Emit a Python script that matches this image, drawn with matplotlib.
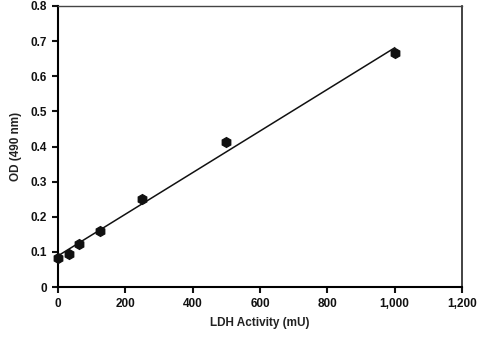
import numpy as np
import matplotlib
matplotlib.use("Agg")
import matplotlib.pyplot as plt

plt.rcParams['font.family'] = ['Liberation Sans', 'DejaVu Sans']

activity = [0, 31.25, 62.5, 125, 250, 500, 1000]
od = [0.083, 0.095, 0.122, 0.160, 0.250, 0.412, 0.665]
xticks = [0, 200, 400, 600, 800, 1000, 1200]
xticklabels = ['0', '200', '400', '600', '800', '1,000', '1,200']
yticks = [0, 0.1, 0.2, 0.3, 0.4, 0.5, 0.6, 0.7, 0.8]
yticklabels = ['0', '0.1', '0.2', '0.3', '0.4', '0.5', '0.6', '0.7', '0.8']

fig = plt.figure(figsize=(4.84, 3.37), dpi=100)
ax = fig.add_axes([58/484, 1-287/337, 404/484, 281/337])

slope, intercept = np.polyfit(activity, od, 1)
xf = np.array([activity[0], activity[-1]])
ax.plot(xf, slope*xf + intercept, color='#111111', lw=1.1, zorder=2)
ax.plot(activity, od, 'h', color='#111111', ms=7, zorder=3, clip_on=False)

ax.set_xlim(0, 1200)
ax.set_ylim(0, 0.8)
ax.set_xticks(xticks)
ax.set_xticklabels(xticklabels)
ax.set_yticks(yticks)
ax.set_yticklabels(yticklabels)
ax.tick_params(direction='out', length=4, width=1.5, labelsize=8.5, pad=4, color='#111111')
for lab in ax.get_xticklabels() + ax.get_yticklabels():
    lab.set_fontweight('bold')
    lab.set_color('#111111')
ax.set_xlabel('LDH Activity (mU)', fontsize=8.5, fontweight='bold', color='#222222', labelpad=5)
ax.set_ylabel('OD (490 nm)', fontsize=8.5, fontweight='bold', color='#222222', labelpad=6)
ax.spines['left'].set_linewidth(1.5)
ax.spines['bottom'].set_linewidth(1.5)
ax.spines['right'].set_linewidth(1.2)
ax.spines['top'].set_linewidth(1.0)
ax.spines['top'].set_color('#444444')
ax.spines['right'].set_color('#222222')

fig.savefig('out.png', dpi=100)
